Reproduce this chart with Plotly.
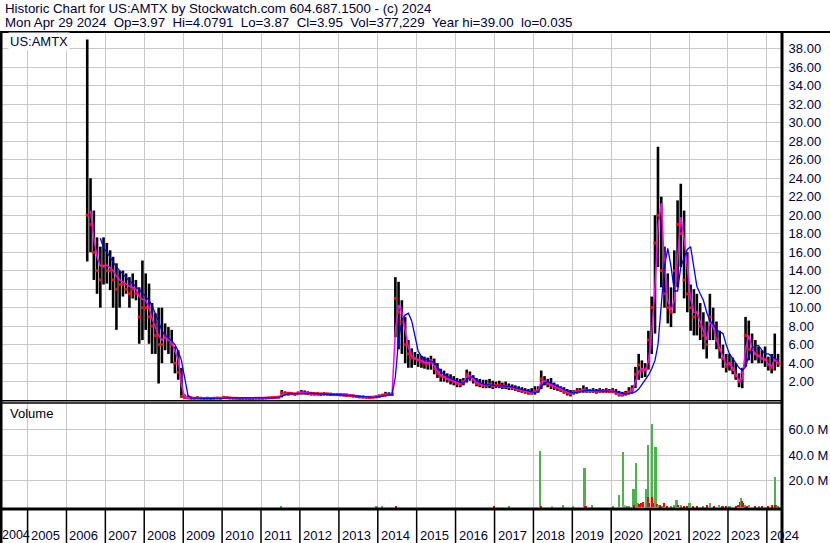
import plotly.graph_objects as go

# ---------------- data (monthly) ----------------
high = [
    39.0, 24.0, 20.5, 17.6, 16.6, 17.6,
    17.0, 16.2, 15.5, 14.8, 14.0, 14.0, 13.7, 13.3, 13.7, 13.0, 12.2, 15.1,
    13.7, 12.6, 10.5, 9.4, 10.0, 10.0, 8.3, 7.9, 7.6, 5.8, 5.4, 3.5,
    0.6, 0.5, 0.4, 0.35, 0.4, 0.35, 0.3, 0.35, 0.3, 0.3, 0.35, 0.3,
    0.45, 0.4, 0.35, 0.3, 0.3, 0.3, 0.3, 0.3, 0.28, 0.3, 0.3, 0.3,
    0.3, 0.3, 0.35, 0.35, 0.4, 0.45, 1.1, 0.95, 0.9, 0.85, 0.8, 0.9,
    1.1, 1.05, 0.95, 0.9, 0.85, 0.85, 0.8, 0.85, 0.8, 0.8, 0.75, 0.75,
    0.75, 0.7, 0.7, 0.65, 0.6, 0.55, 0.5, 0.5, 0.45, 0.45, 0.45, 0.5,
    0.6, 0.7, 0.9, 0.85, 0.8, 13.3, 12.8, 10.8, 9.0, 6.5, 5.6, 5.2,
    5.0, 4.8, 4.7, 4.6, 4.8, 4.5, 4.0, 3.4, 3.2, 2.9, 2.8, 2.6,
    2.4, 2.3, 2.4, 3.3, 3.1, 2.7, 2.4, 2.3, 2.2, 2.2, 2.3, 2.1,
    2.0, 2.1, 1.9, 2.0, 1.8, 1.7, 1.6, 1.5, 1.4, 1.3, 1.2, 1.3,
    1.5, 1.5, 3.2, 2.6, 2.3, 2.4, 1.9, 1.7, 1.5, 1.4, 1.2, 1.1,
    1.1, 1.3, 1.3, 1.6, 1.4, 1.2, 1.3, 1.2, 1.3, 1.2, 1.3, 1.2,
    1.3, 1.2, 1.0, 0.9, 1.0, 1.4, 1.6, 3.6, 5.0, 4.3, 4.0, 7.5,
    11.2, 20.0, 27.4, 22.0, 16.6, 13.7, 12.2, 16.2, 21.6, 23.4, 20.5, 16.0,
    12.5, 12.0, 11.5, 10.5, 9.5, 8.5, 11.5, 10.0, 8.5, 7.5, 6.0, 5.0,
    5.0, 4.6, 4.0, 2.9, 3.5, 9.0, 8.6, 7.2, 6.5, 5.8, 5.4, 5.8,
    4.7, 5.0, 7.2, 5.0,
]
low = [
    15.0, 16.0, 13.0, 11.5, 10.0, 12.5,
    12.6, 11.9, 10.0, 7.6, 10.0, 11.2, 11.5, 10.0, 11.0, 10.8, 6.1, 6.5,
    7.6, 6.1, 5.0, 5.0, 1.8, 4.0, 5.4, 5.0, 4.0, 2.9, 2.2, 0.3,
    0.15, 0.12, 0.1, 0.1, 0.12, 0.1, 0.1, 0.1, 0.1, 0.1, 0.12, 0.1,
    0.15, 0.15, 0.12, 0.12, 0.1, 0.1, 0.1, 0.1, 0.1, 0.1, 0.1, 0.1,
    0.1, 0.12, 0.15, 0.15, 0.18, 0.2, 0.3, 0.5, 0.5, 0.55, 0.5, 0.6,
    0.6, 0.6, 0.55, 0.5, 0.5, 0.5, 0.45, 0.5, 0.5, 0.45, 0.45, 0.45,
    0.42, 0.4, 0.38, 0.35, 0.3, 0.25, 0.22, 0.2, 0.2, 0.18, 0.2, 0.22,
    0.28, 0.35, 0.4, 0.45, 0.45, 6.8, 5.5, 5.0, 4.0, 3.5, 3.5, 3.8,
    3.6, 3.5, 3.4, 3.3, 3.3, 2.8, 2.4, 2.0, 2.0, 1.9, 1.7, 1.6,
    1.4, 1.4, 1.6, 1.9, 2.1, 1.8, 1.5, 1.4, 1.3, 1.3, 1.3, 1.2,
    1.3, 1.3, 1.2, 1.2, 1.1, 1.1, 1.0, 0.9, 0.8, 0.7, 0.6, 0.6,
    0.6, 0.8, 1.2, 1.6, 1.4, 1.2, 1.1, 1.0, 0.9, 0.7, 0.5, 0.4,
    0.6, 0.7, 0.8, 0.8, 0.8, 0.8, 0.8, 0.7, 0.8, 0.8, 0.8, 0.8,
    0.8, 0.6, 0.4, 0.4, 0.5, 0.6, 0.7, 1.3, 2.2, 2.4, 2.5, 3.3,
    5.0, 7.2, 14.4, 12.2, 10.0, 8.3, 7.9, 9.4, 12.2, 14.4, 11.0, 9.5,
    7.5, 7.0, 7.0, 6.5, 5.5, 4.5, 6.5, 6.5, 5.5, 4.5, 3.5, 3.0,
    3.2, 2.8, 2.2, 1.4, 1.3, 3.6, 4.3, 4.0, 4.3, 4.0, 4.0, 3.6,
    3.2, 2.9, 3.2, 3.6,
]
close = [
    20.0, 19.0, 16.0, 14.0, 13.0, 14.5,
    14.0, 14.0, 13.0, 12.0, 12.5, 12.5, 12.0, 11.5, 12.0, 11.5, 9.0, 10.0,
    10.0, 9.0, 8.0, 7.0, 6.0, 6.0, 7.0, 6.5, 6.0, 4.0, 3.0, 0.4,
    0.3, 0.25, 0.2, 0.2, 0.22, 0.2, 0.18, 0.2, 0.18, 0.2, 0.22, 0.2,
    0.3, 0.25, 0.22, 0.2, 0.2, 0.18, 0.18, 0.17, 0.18, 0.18, 0.2, 0.2,
    0.2, 0.22, 0.25, 0.27, 0.3, 0.32, 0.8, 0.7, 0.7, 0.72, 0.65, 0.78,
    0.85, 0.8, 0.75, 0.7, 0.68, 0.7, 0.65, 0.7, 0.66, 0.63, 0.6, 0.62,
    0.6, 0.58, 0.55, 0.5, 0.45, 0.4, 0.35, 0.33, 0.3, 0.3, 0.32, 0.35,
    0.45, 0.5, 0.62, 0.6, 0.65, 11.0, 9.5, 8.5, 6.0, 5.0, 4.6, 4.5,
    4.3, 4.2, 4.0, 4.0, 4.3, 3.4, 2.9, 2.6, 2.5, 2.3, 2.2, 2.0,
    1.8, 1.7, 2.0, 2.8, 2.5, 2.2, 1.8, 1.7, 1.6, 1.6, 1.7, 1.5,
    1.6, 1.6, 1.5, 1.5, 1.4, 1.3, 1.2, 1.1, 1.0, 0.9, 0.8, 0.8,
    1.0, 1.1, 2.3, 2.0, 1.8, 1.6, 1.4, 1.3, 1.1, 0.9, 0.8, 0.7,
    0.9, 1.0, 1.0, 1.1, 1.0, 1.0, 1.0, 0.9, 1.0, 0.95, 1.0, 0.95,
    1.0, 0.8, 0.6, 0.6, 0.7, 0.9, 1.2, 2.8, 3.8, 3.2, 3.3, 6.5,
    10.0, 17.0, 20.0, 14.0, 11.5, 10.0, 9.5, 14.0, 19.0, 18.0, 13.0, 11.5,
    10.0, 9.0, 9.5, 8.0, 7.0, 6.0, 9.0, 8.0, 6.5, 5.5, 4.5, 3.6,
    4.0, 3.3, 2.6, 2.0, 3.0, 7.0, 5.5, 5.5, 5.0, 4.8, 4.5, 4.4,
    3.8, 3.5, 4.3, 3.95,
]
ma_short = [
    None, 20.5, 17.5, 15.5, 14.5, 14.5,
    14.6, 14.3, 14.0, 13.4, 13.0, 12.8, 12.6, 12.3, 12.2, 12.0, 11.2, 10.9,
    10.8, 10.0, 8.8, 7.8, 7.0, 6.5, 6.8, 6.6, 6.3, 5.3, 4.4, 1.6,
    0.35, 0.26, 0.22, 0.2, 0.21, 0.2, 0.19, 0.19, 0.19, 0.19, 0.21, 0.2,
    0.28, 0.27, 0.23, 0.21, 0.2, 0.19, 0.18, 0.18, 0.18, 0.18, 0.19, 0.2,
    0.2, 0.21, 0.24, 0.26, 0.29, 0.31, 0.6, 0.72, 0.7, 0.72, 0.68, 0.75,
    0.82, 0.82, 0.77, 0.72, 0.69, 0.69, 0.66, 0.68, 0.67, 0.64, 0.61, 0.61,
    0.61, 0.59, 0.56, 0.52, 0.47, 0.42, 0.37, 0.34, 0.31, 0.3, 0.31, 0.34,
    0.42, 0.48, 0.58, 0.6, 0.63, 7.5, 10.3, 9.5, 7.5, 5.7, 4.8, 4.5,
    4.4, 4.2, 4.1, 4.0, 4.2, 3.7, 3.1, 2.7, 2.5, 2.3, 2.2, 2.05,
    1.9, 1.75, 1.9, 2.6, 2.6, 2.3, 1.9, 1.75, 1.65, 1.6, 1.65, 1.55,
    1.55, 1.6, 1.55, 1.5, 1.45, 1.35, 1.25, 1.15, 1.05, 0.95, 0.85, 0.8,
    0.9, 1.05, 2.0, 2.1, 1.85, 1.7, 1.5, 1.35, 1.2, 1.0, 0.85, 0.75,
    0.8, 0.95, 1.0, 1.1, 1.05, 1.0, 1.0, 0.95, 0.97, 0.97, 0.98, 0.97,
    1.0, 0.88, 0.68, 0.6, 0.65, 0.82, 1.0, 2.0, 3.1, 3.4, 3.2, 4.2,
    7.2, 12.3, 18.7, 21.3, 14.4, 10.8, 9.7, 10.8, 15.1, 19.8, 17.5, 14.5,
    11.0, 9.5, 9.5, 8.5, 7.5, 6.5, 8.5, 8.0, 6.5, 5.5, 4.7, 3.8,
    4.0, 3.5, 2.8, 2.1, 2.3, 5.5, 7.0, 5.6, 5.0, 4.8, 4.5, 4.4,
    3.9, 3.6, 4.5, 4.0,
]
ma_long = [
    None, None, None, None, 17.5, 16.5,
    16.0, 15.4, 14.9, 14.4, 14.0, 13.6, 13.2, 12.9, 12.6, 12.3, 12.0, 11.6,
    11.2, 10.8, 10.2, 9.4, 8.5, 7.5, 7.0, 6.7, 6.4, 6.0, 5.3, 4.3,
    2.2, 0.5, 0.25, 0.22, 0.21, 0.2, 0.2, 0.2, 0.19, 0.19, 0.2, 0.2,
    0.22, 0.25, 0.25, 0.23, 0.21, 0.2, 0.19, 0.18, 0.18, 0.18, 0.18, 0.19,
    0.19, 0.2, 0.22, 0.24, 0.27, 0.3, 0.42, 0.6, 0.68, 0.7, 0.7, 0.72,
    0.76, 0.8, 0.8, 0.76, 0.72, 0.7, 0.68, 0.68, 0.67, 0.66, 0.64, 0.62,
    0.62, 0.6, 0.58, 0.55, 0.5, 0.46, 0.41, 0.37, 0.34, 0.32, 0.31, 0.32,
    0.36, 0.42, 0.5, 0.56, 0.6, 2.5, 6.5, 8.6, 9.2, 9.4, 8.6, 7.0,
    5.3, 4.7, 4.5, 4.3, 4.2, 4.1, 3.6, 3.1, 2.8, 2.55, 2.35, 2.2,
    2.1, 1.9, 1.85, 2.2, 2.5, 2.5, 2.2, 1.9, 1.75, 1.65, 1.65, 1.6,
    1.55, 1.58, 1.57, 1.53, 1.5, 1.42, 1.33, 1.23, 1.13, 1.03, 0.93, 0.85,
    0.82, 0.95, 1.4, 1.9, 2.0, 1.85, 1.65, 1.5, 1.35, 1.15, 0.97, 0.85,
    0.78, 0.85, 0.95, 1.05, 1.08, 1.05, 1.02, 0.98, 0.97, 0.97, 0.98, 0.97,
    0.98, 0.93, 0.8, 0.68, 0.64, 0.72, 0.8, 0.9, 1.2, 1.7, 2.2, 2.7,
    3.4, 4.3, 6.0, 10.5, 14.5, 16.4, 14.5, 11.8, 11.8, 14.4, 15.5, 16.3,
    16.6, 14.5, 12.3, 11.5, 10.8, 9.5, 8.6, 8.2, 7.6, 7.4, 7.2, 6.0,
    5.0, 4.5, 4.0, 3.5, 3.2, 3.6, 4.7, 5.6, 5.9, 5.9, 5.4, 5.0,
    5.0, 4.7, 4.5, 4.3,
]

vol_dates = [
    "2011-07-05", "2013-12-20", "2014-02-10", "2014-06-20", "2016-12-28", "2017-05-20",
    "2018-02-28", "2018-03-06", "2018-03-12", "2018-06-25", "2018-10-05", "2019-01-05",
    "2019-04-25", "2019-05-05", "2019-07-05", "2020-01-20", "2020-03-10", "2020-04-20",
    "2020-05-05", "2020-05-25", "2020-06-15", "2020-07-28", "2020-08-05", "2020-08-22",
    "2020-08-30", "2020-09-10", "2020-09-22", "2020-10-05", "2020-10-15", "2020-10-28",
    "2020-11-25", "2020-12-09", "2020-12-15", "2020-12-24", "2021-01-14", "2021-01-20",
    "2021-01-28", "2021-02-20", "2021-02-28", "2021-03-08", "2021-03-20", "2021-04-05",
    "2021-04-25", "2021-05-10", "2021-06-10", "2021-07-15", "2021-08-10", "2021-09-05",
    "2021-09-20", "2021-10-15", "2021-11-15", "2021-12-10", "2022-01-05", "2022-02-10",
    "2022-03-20", "2022-05-10", "2022-06-20", "2022-07-15", "2022-08-20", "2022-10-10",
    "2022-11-10", "2022-12-15", "2023-01-15", "2023-03-20", "2023-04-10", "2023-04-25",
    "2023-05-05", "2023-05-15", "2023-05-25", "2023-06-10", "2023-06-25", "2023-07-15",
    "2023-09-10", "2023-10-15", "2023-11-15", "2024-01-10", "2024-02-20", "2024-03-14",
    "2024-03-22", "2024-04-10",
]
vol_millions = [
    1.2, 0.6, 0.6, 0.8, 0.5, 0.4,
    9.8, 43.7, 0.6, 1.0, 1.3, 0.5,
    30.3, 0.6, 1.5, 0.5, 9.0, 43.0,
    1.5, 0.8, 0.6, 14.0, 1.5, 34.0,
    2.0, 3.0, 2.5, 3.0, 2.0, 4.0,
    14.0, 48.4, 7.6, 3.0, 64.8, 8.0,
    3.0, 46.3, 5.0, 2.5, 2.0, 1.5,
    1.2, 3.0, 1.0, 1.2, 1.5, 5.8,
    2.0, 1.5, 1.2, 1.0, 3.0, 1.0,
    1.0, 1.2, 1.5, 3.0, 1.0, 2.0,
    1.0, 0.8, 0.8, 1.2, 2.0, 4.0,
    7.0, 4.5, 3.0, 1.5, 1.0, 2.0,
    1.0, 0.8, 1.0, 1.0, 1.5, 23.6,
    1.5, 0.8,
]
vol_dir = [
    "up", "up", "up", "down", "down", "up",
    "up", "up", "down", "flat", "up", "up",
    "up", "down", "up", "up", "up", "up",
    "flat", "up", "up", "up", "down", "up",
    "up", "up", "down", "down", "up", "down",
    "up", "up", "down", "down", "up", "down",
    "down", "up", "up", "down", "up", "down",
    "up", "down", "down", "up", "up", "up",
    "down", "up", "down", "down", "up", "down",
    "down", "up", "down", "up", "down", "up",
    "down", "down", "up", "down", "down", "down",
    "up", "down", "down", "up", "down", "up",
    "down", "up", "down", "down", "down", "up",
    "down", "up",
]

year_labels = [str(y) for y in range(2004, 2025)]
price_ticks = [2, 4, 6, 8, 10, 12, 14, 16, 18, 20, 22, 24, 26, 28, 30, 32, 34, 36, 38]
vol_ticks = [20, 40, 60]
vol_tick_text = ["20.0 M", "40.0 M", "60.0 M"]

header_1 = "Historic Chart for US:AMTX by Stockwatch.com 604.687.1500 - (c) 2024"
header_2 = "Mon Apr 29 2024  Op=3.97  Hi=4.0791  Lo=3.87  Cl=3.95  Vol=377,229  Year hi=39.00  lo=0.035"

# ---------------- build ----------------
months = []
yy, mm = 2006, 7
for _ in close:
    months.append(f"{yy}-{mm:02d}-15")
    mm += 1
    if mm > 12:
        mm = 1
        yy += 1

bar_x, bar_y = [], []
for d, h, l in zip(months, high, low):
    bar_x += [d, d, None]
    bar_y += [l, h, None]

FONT = "Liberation Sans, Arial, sans-serif"
TXT = "#000033"
GRID = "#C8C8C8"
W, H = 830, 543
ML, MR, MT, MB = 2, 48, 33, 35
PW, PH = W - ML - MR, H - MT - MB


def px(x):
    return (x - ML) / PW


def py(y):
    return (H - MB - y) / PH


color_map = {"up": "#4CB34C", "down": "#FF0000", "flat": "#A8A8A8"}

fig = go.Figure()
fig.add_trace(go.Scatter(x=bar_x, y=bar_y, mode="lines",
                         line=dict(color="black", width=2.6), hoverinfo="skip",
                         xaxis="x", yaxis="y", showlegend=False))
fig.add_trace(go.Scatter(x=months, y=close, mode="markers",
                         marker=dict(color="#FF0000", size=3, symbol="square"),
                         xaxis="x", yaxis="y", showlegend=False))
fig.add_trace(go.Scatter(x=months, y=ma_short, mode="lines",
                         line=dict(color="#FF00FF", width=1.5),
                         xaxis="x", yaxis="y", showlegend=False))
fig.add_trace(go.Scatter(x=months, y=ma_long, mode="lines",
                         line=dict(color="#0000FF", width=1.3),
                         xaxis="x", yaxis="y", showlegend=False))
fig.add_trace(go.Bar(x=vol_dates, y=vol_millions,
                     marker=dict(color=[color_map[d] for d in vol_dir], line=dict(width=0)),
                     width=20 * 86400000, xaxis="x2", yaxis="y2", showlegend=False))

xr = ["2004-05-06", "2024-05-22"]
common_x = dict(type="date", range=xr, showgrid=True, gridcolor=GRID, gridwidth=1,
                dtick="M12", tick0="2005-01-01", showticklabels=False,
                zeroline=False, showline=False, ticks="")

shapes = []
# frame lines
shapes.append(dict(type="line", xref="paper", yref="paper", x0=px(0), x1=px(W), y0=py(32), y1=py(32), line=dict(color="black", width=2)))
shapes.append(dict(type="line", xref="paper", yref="paper", x0=px(1), x1=px(1), y0=py(32), y1=py(H), line=dict(color="black", width=3)))
shapes.append(dict(type="line", xref="paper", yref="paper", x0=px(782), x1=px(782), y0=py(32), y1=py(H), line=dict(color="black", width=3)))
shapes.append(dict(type="line", xref="paper", yref="paper", x0=px(0), x1=px(782), y0=py(400.8), y1=py(400.8), line=dict(color="black", width=1.5)))
shapes.append(dict(type="line", xref="paper", yref="paper", x0=px(0), x1=px(782), y0=py(403), y1=py(403), line=dict(color="black", width=1.5)))
shapes.append(dict(type="line", xref="paper", yref="paper", x0=px(0), x1=px(782), y0=py(509), y1=py(509), line=dict(color="black", width=3)))
for lab in year_labels[1:]:
    shapes.append(dict(type="line", xref="x2", yref="paper", x0=f"{lab}-01-01", x1=f"{lab}-01-01",
                       y0=py(510), y1=py(H), line=dict(color="black", width=1.5)))

annotations = [
    dict(text=header_1, xref="paper", yref="paper", x=px(3), y=py(8), xanchor="left", yanchor="middle",
         showarrow=False, font=dict(family=FONT, size=13.3, color=TXT)),
    dict(text=header_2, xref="paper", yref="paper", x=px(3), y=py(22), xanchor="left", yanchor="middle",
         showarrow=False, font=dict(family=FONT, size=13.3, color=TXT)),
    dict(text="US:AMTX", xref="paper", yref="paper", x=px(8), y=py(42), xanchor="left", yanchor="middle",
         showarrow=False, bgcolor="white", font=dict(family=FONT, size=13, color=TXT)),
    dict(text="Volume", xref="paper", yref="paper", x=px(8), y=py(413), xanchor="left", yanchor="middle",
         showarrow=False, font=dict(family=FONT, size=13, color="#000000")),
]
# first year band begins before the axis range: put its label at the left edge
annotations.append(dict(text=year_labels[0], xref="paper", yref="paper", x=px(0), y=py(535),
                        xanchor="left", yanchor="middle", showarrow=False,
                        font=dict(family=FONT, size=12.5, color=TXT)))
for lab in year_labels[1:]:
    annotations.append(dict(text=lab, xref="x2", yref="paper", x=f"{lab}-01-01", y=py(535),
                            xanchor="left", yanchor="middle", xshift=1, showarrow=False,
                            font=dict(family=FONT, size=13, color=TXT)))

fig.update_layout(
    width=W, height=H,
    margin=dict(l=ML, r=MR, t=MT, b=MB, pad=0),
    paper_bgcolor="white", plot_bgcolor="white",
    showlegend=False, bargap=0,
    xaxis=dict(domain=[0, 1], anchor="y", **common_x),
    xaxis2=dict(domain=[0, 1], anchor="y2", matches="x", **common_x),
    yaxis=dict(domain=[py(402), 1], range=[-0.2, 39.7], side="right",
               tickvals=price_ticks, tickformat=".2f", showgrid=True, gridcolor=GRID,
               zeroline=False, showline=False, ticks="outside", ticklen=3,
               tickcolor="rgba(0,0,0,0)",
               tickfont=dict(family=FONT, size=13, color=TXT)),
    yaxis2=dict(domain=[0, py(403.5)], range=[-1.1, 80], side="right",
                tickvals=vol_ticks, ticktext=vol_tick_text, showgrid=True, gridcolor=GRID,
                zeroline=False, showline=False, ticks="outside", ticklen=3,
                tickcolor="rgba(0,0,0,0)",
                tickfont=dict(family=FONT, size=13, color=TXT)),
    shapes=shapes,
    annotations=annotations,
)

fig.write_html("out.html", config={"displayModeBar": False},
               post_script="document.body.style.margin='0';document.body.style.overflow='hidden';")
